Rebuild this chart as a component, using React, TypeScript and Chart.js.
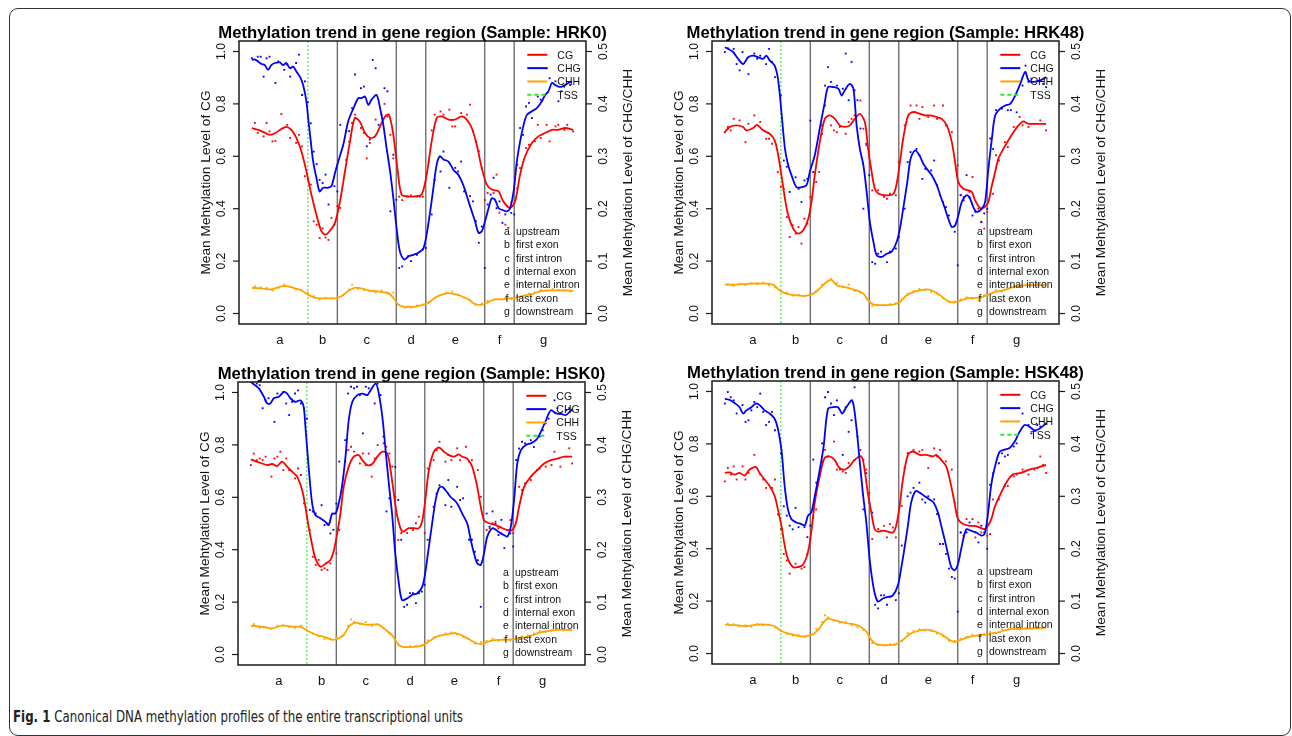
import React, { useEffect, useLayoutEffect, useRef } from "react";
import { Chart, registerables } from "chart.js";

Chart.register(...registerables);

type Pt = [number, number];

// ---------------- labels / categories ----------------
const SAMPLES = ["HRK0", "HRK48", "HSK0", "HSK48"];
const SERIES = ["CG", "CHG", "CHH"];
const SERIES_COLORS = ["#ff0000", "#0000ff", "#ffa500"];
const TSS_LABEL = "TSS";
const TSS_COLOR = "#2fe82f";
const REGION_LETTERS = ["a", "b", "c", "d", "e", "f", "g"];
const REGION_NAMES = ["upstream", "first exon", "first intron", "internal exon", "internal intron", "last exon", "downstream"];
const REGION_CENTERS = [9.5, 24, 39, 54, 69, 84, 99];
const REGION_BOUNDARIES = [29, 49, 59, 79, 89];
const TSS_POS = 19;
const X_START = 0;
const X_END = 109;
const CG_TICKS = [0, 0.2, 0.4, 0.6, 0.8, 1.0];
const CH_TICKS = [0, 0.1, 0.2, 0.3, 0.4, 0.5];
const TITLE_PREFIX = "Methylation trend in gene region (Sample: ";
const LEFT_AXIS_TITLE = "Mean Mehtylation Level of CG";
const RIGHT_AXIS_TITLE = "Mean Mehtylation Level of CHG/CHH";
const CAPTION_BOLD = "Fig. 1";
const CAPTION_TEXT = " Canonical DNA methylation profiles of the entire transcriptional units";

// ---------------- HRK0 ----------------
const HRK0_CG_LINE: Pt[] = [[0,.708],[2.1,.701],[4,.692],[6.1,.682],[8,.689],[10,.704],[11.7,.712],[13.4,.701],[15.1,.670],[16.8,.619],[18.5,.543],[20.2,.454],[21.9,.377],[23.6,.314],[25,.301],[26.5,.316],[28.2,.346],[29.9,.428],[31.6,.543],[33.3,.657],[34.9,.746],[36.6,.733],[38.4,.689],[40.1,.670],[41.8,.676],[43.5,.714],[45.2,.752],[46.5,.759],[48,.682],[49.5,.543],[50.8,.454],[53.1,.447],[55.3,.447],[57.6,.454],[59.3,.530],[61,.657],[62.7,.746],[64.4,.752],[66.7,.740],[68.9,.740],[71.2,.752],[72.9,.740],[74.6,.708],[76.3,.644],[78,.555],[79.7,.492],[81.4,.473],[83.7,.466],[85.3,.428],[87.6,.403],[89.3,.428],[91,.530],[92.7,.600],[95,.651],[97.2,.676],[99.5,.689],[101.8,.701],[104,.701],[106.3,.708],[109,.701]];
const HRK0_CG_DOTS: Pt[] = [[1,.727],[2,.689],[4,.676],[5,.727],[6,.695],[7,.657],[8,.659],[10,.761],[12,.720],[13,.670],[15,.651],[16,.682],[17,.638],[18,.524],[19,.511],[20,.492],[21,.352],[22,.339],[23,.288],[24,.325],[25,.290],[26,.281],[27,.365],[28,.339],[29,.410],[30,.403],[32,.586],[33,.656],[34,.727],[35,.759],[37,.708],[38,.689],[39,.592],[40,.651],[42,.740],[44,.759],[45,.800],[46,.752],[47,.682],[48,.592],[50,.446],[51,.433],[53,.446],[54,.451],[56,.446],[57,.446],[58,.446],[60,.580],[61,.699],[62,.759],[64,.771],[65,.759],[67,.778],[68,.714],[69,.714],[71,.765],[73,.759],[74,.797],[75,.695],[76,.657],[77,.619],[78,.555],[79,.433],[80,.460],[82,.460],[83,.530],[84,.385],[86,.339],[87,.327],[88,.423],[90,.478],[91,.555],[93,.632],[94,.644],[96,.657],[97,.720],[98,.670],[100,.720],[101,.657],[103,.714],[104,.720],[106,.701],[107,.720],[109,.695]];
const HRK0_CHG_LINE: Pt[] = [[0,.484],[1,.485],[2.1,.481],[3.3,.476],[4.4,.474],[5.5,.465],[6.6,.474],[7.8,.478],[9.5,.479],[10.6,.474],[11.7,.478],[12.9,.468],[14,.471],[15.1,.462],[16.3,.452],[17.4,.436],[18.5,.405],[19.1,.373],[20,.328],[20.8,.290],[21.9,.259],[23,.233],[24.2,.240],[25.9,.240],[27,.243],[28.2,.268],[29.3,.290],[31,.322],[32.7,.367],[34.5,.392],[36.1,.411],[37.2,.411],[38.4,.414],[39.5,.398],[40.6,.408],[42.3,.417],[43.5,.392],[44.6,.360],[45.7,.316],[46.9,.271],[48,.220],[49.1,.163],[50.2,.119],[51.7,.103],[53.1,.109],[54.8,.112],[56.5,.116],[58.2,.125],[59.3,.151],[60.5,.195],[61.6,.240],[62.7,.284],[63.8,.300],[65,.294],[66.7,.290],[68.4,.274],[70,.265],[71.2,.252],[72.3,.236],[73.5,.214],[74.6,.195],[75.7,.176],[76.9,.154],[78,.157],[79.1,.176],[80.3,.201],[81.4,.220],[82.5,.217],[83.7,.201],[84.8,.198],[86.5,.195],[87.6,.201],[88.8,.233],[89.9,.290],[91,.328],[92.2,.360],[93.3,.379],[95,.386],[96.7,.392],[98.4,.405],[99.5,.417],[100.6,.424],[101.8,.440],[102.9,.436],[104,.433],[105.2,.433],[106.3,.436],[107.4,.440],[108.6,.443]];
const HRK0_CHG_DOTS: Pt[] = [[0,.487],[2,.490],[3,.490],[4,.452],[5,.487],[6,.490],[8,.440],[9,.481],[11,.465],[12,.475],[13,.452],[15,.478],[16,.494],[17,.417],[18,.443],[19,.403],[20,.363],[21,.309],[22,.285],[23,.255],[24,.249],[25,.265],[26,.208],[28,.243],[29,.233],[30,.360],[32,.348],[33,.348],[34,.392],[35,.456],[37,.430],[38,.433],[39,.319],[40,.332],[41,.484],[42,.468],[43,.360],[45,.430],[46,.424],[47,.195],[48,.303],[49,.217],[50,.087],[51,.090],[53,.109],[54,.100],[56,.112],[58,.122],[59,.125],[61,.189],[62,.255],[64,.271],[65,.309],[67,.240],[69,.278],[70,.271],[71,.290],[72,.233],[74,.224],[75,.214],[76,.176],[77,.135],[78,.166],[79,.087],[80,.208],[81,.227],[82,.259],[83,.201],[84,.214],[85,.173],[86,.189],[88,.192],[89,.189],[90,.284],[91,.354],[92,.341],[93,.395],[94,.402],[95,.373],[97,.414],[98,.408],[100,.468],[101,.449],[103,.443],[104,.405],[105,.424],[106,.433],[108,.436]];
const HRK0_CHH_LINE: Pt[] = [[0,.049],[3.3,.048],[6.6,.046],[10,.052],[12.3,.052],[14.6,.048],[16.8,.044],[19.1,.036],[21.4,.030],[23.6,.029],[25.9,.029],[28.2,.029],[30.4,.033],[32.7,.043],[34.9,.049],[37.2,.048],[39.5,.044],[41.8,.043],[44,.041],[46.3,.039],[48,.030],[49.7,.017],[51.4,.013],[53.1,.013],[55.3,.013],[57.6,.016],[59.9,.020],[62.1,.030],[64.4,.036],[66.7,.039],[68.9,.037],[71.2,.033],[73.5,.027],[75.7,.018],[78,.017],[80.3,.022],[82.5,.027],[84.8,.027],[87,.029],[89.3,.030],[91.6,.033],[93.8,.036],[96.1,.039],[98.4,.043],[100.6,.044],[102.9,.044],[105.2,.044],[107.4,.044],[109,.043]];
const HRK0_CHH_DOTS: Pt[] = [[1,.052],[3,.050],[5,.049],[7,.044],[9,.049],[11,.055],[13,.051],[15,.046],[17,.044],[19,.040],[21,.033],[23,.027],[25,.030],[27,.029],[29,.030],[31,.035],[33,.046],[34,.055],[36,.047],[38,.045],[40,.043],[42,.040],[44,.044],[46,.038],[48,.040],[50,.016],[52,.011],[54,.012],[56,.015],[58,.017],[60,.022],[62,.030],[64,.035],[66,.040],[68,.042],[70,.036],[72,.030],[74,.025],[76,.017],[78,.019],[80,.024],[82,.026],[84,.027],[86,.030],[88,.028],[90,.033],[92,.031],[94,.038],[96,.040],[98,.045],[100,.043],[102,.047],[104,.045],[106,.044],[108,.042]];

// ---------------- HRK48 ----------------
const HRK48_CG_LINE: Pt[] = [[0,.692],[1.7,.712],[3.9,.718],[6.2,.712],[7.3,.699],[9.6,.708],[10.9,.720],[13,.699],[15.2,.686],[16.9,.661],[18.1,.604],[19.2,.527],[20.4,.438],[21.5,.375],[23.2,.324],[24.9,.305],[26.6,.318],[28.3,.362],[29.4,.426],[30.5,.527],[32.2,.654],[33.9,.743],[35.6,.756],[37.3,.743],[39,.718],[40.7,.712],[42.4,.718],[44.1,.743],[45.8,.762],[47.5,.731],[48.6,.629],[49.8,.540],[50.9,.476],[52.1,.457],[54.9,.451],[57.2,.457],[58.3,.496],[59.4,.578],[60.5,.667],[62.2,.756],[63.9,.769],[66.2,.762],[67.9,.756],[69.6,.756],[71.9,.750],[73.6,.743],[75.3,.718],[77,.654],[78.1,.578],[79.2,.502],[80.9,.476],[82.6,.470],[83.8,.464],[84.9,.432],[86.6,.403],[88.3,.407],[89.4,.426],[90.6,.489],[91.7,.540],[92.8,.591],[94.5,.629],[96.2,.661],[97.9,.692],[99.6,.718],[101.3,.733],[103,.724],[104.7,.724],[107,.724],[109,.724]];
const HRK48_CG_DOTS: Pt[] = [[0,.692],[1,.712],[2,.699],[3,.743],[5,.737],[7,.654],[8,.724],[10,.756],[12,.731],[14,.667],[15,.667],[16,.648],[18,.540],[19,.483],[20,.476],[21,.368],[22,.292],[23,.337],[24,.305],[25,.330],[26,.267],[27,.362],[28,.343],[29,.445],[31,.502],[32,.540],[33,.686],[34,.794],[36,.718],[37,.699],[38,.692],[39,.712],[41,.686],[42,.731],[43,.743],[44,.756],[46,.813],[47,.705],[48,.642],[49,.604],[50,.470],[52,.470],[54,.445],[55,.438],[56,.457],[58,.451],[59,.578],[61,.718],[63,.794],[65,.794],[66,.743],[67,.788],[69,.750],[71,.794],[72,.743],[74,.794],[75,.718],[77,.692],[79,.565],[80,.451],[81,.445],[83,.464],[84,.521],[86,.400],[87,.349],[88,.324],[89,.388],[91,.457],[92,.604],[93,.584],[95,.654],[96,.635],[98,.712],[100,.750],[101,.718],[103,.712],[105,.724],[107,.737],[109,.699]];
const HRK48_CHG_LINE: Pt[] = [[0,.508],[1.1,.505],[2.8,.499],[4.5,.486],[6.2,.476],[7.9,.489],[9.6,.492],[11.3,.489],[13,.486],[14.1,.492],[15.2,.483],[16.9,.473],[18.1,.445],[19.2,.384],[20.4,.314],[21.5,.283],[22.6,.264],[24.3,.241],[26,.241],[27.7,.245],[28.8,.270],[30.5,.302],[32.2,.353],[33.9,.403],[35,.432],[36.7,.432],[38.5,.429],[39.6,.416],[40.7,.426],[42.4,.438],[43.6,.429],[44.7,.359],[45.8,.314],[47,.283],[48.1,.232],[49.2,.175],[50.4,.137],[51.5,.111],[53.2,.108],[54.9,.114],[56.6,.118],[58.3,.137],[59.4,.162],[60.5,.200],[61.9,.251],[63,.295],[64.5,.311],[66,.302],[67.3,.286],[68.5,.276],[70.2,.264],[71.9,.245],[73.3,.222],[74.7,.200],[75.8,.181],[77,.165],[78.1,.168],[79.2,.187],[80.4,.213],[82.1,.226],[83.2,.219],[84.3,.203],[85.4,.194],[87.2,.200],[88.3,.213],[89.4,.276],[90.6,.334],[91.7,.378],[93.4,.391],[95.1,.397],[96.8,.400],[98.5,.416],[100.2,.438],[101.9,.461],[103,.445],[104.7,.442],[107,.445],[109,.451]];
const HRK48_CHG_DOTS: Pt[] = [[0,.499],[1,.506],[3,.505],[4,.476],[5,.464],[6,.499],[8,.457],[10,.496],[11,.486],[12,.492],[14,.476],[15,.505],[16,.480],[17,.451],[19,.416],[20,.292],[21,.280],[22,.232],[24,.260],[25,.238],[26,.213],[27,.254],[28,.257],[29,.368],[30,.270],[33,.359],[34,.435],[35,.470],[36,.442],[37,.432],[38,.435],[40,.429],[41,.496],[42,.407],[43,.480],[44,.426],[45,.407],[46,.353],[47,.200],[48,.324],[49,.264],[50,.098],[51,.095],[52,.114],[53,.118],[55,.098],[56,.118],[58,.124],[59,.146],[61,.200],[62,.289],[63,.308],[65,.314],[66,.302],[67,.257],[68,.276],[70,.273],[71,.292],[72,.245],[73,.226],[74,.213],[75,.203],[76,.187],[78,.156],[79,.092],[80,.226],[81,.216],[82,.264],[83,.222],[84,.187],[85,.194],[87,.175],[88,.191],[89,.200],[90,.334],[91,.314],[92,.388],[94,.391],[96,.388],[97,.388],[99,.384],[101,.435],[102,.473],[103,.442],[104,.448],[106,.445],[108,.438],[109,.432]];
const HRK48_CHH_LINE: Pt[] = [[0,.055],[3.9,.055],[8.5,.057],[13,.057],[16.4,.055],[18.6,.044],[20.9,.038],[23.2,.035],[25.4,.034],[27.7,.034],[30,.038],[32.2,.048],[34.5,.060],[36.2,.064],[37.9,.054],[40.2,.051],[42.4,.048],[44.7,.044],[47,.038],[48.6,.025],[50.4,.017],[52.6,.016],[54.9,.016],[57.1,.017],[59.4,.022],[61.7,.035],[64,.041],[66.2,.044],[68.5,.046],[70.7,.043],[73,.035],[75.3,.025],[77.5,.021],[79.8,.024],[82.1,.029],[84.3,.030],[86.6,.030],[88.9,.035],[91.1,.040],[93.4,.043],[95.6,.046],[97.9,.051],[100.2,.053],[102.4,.054],[104.7,.054],[107,.054],[109,.055]];
const HRK48_CHH_DOTS: Pt[] = [[1,.056],[3,.053],[5,.057],[7,.054],[9,.058],[11,.056],[13,.059],[15,.054],[17,.050],[19,.044],[21,.040],[23,.034],[25,.036],[27,.033],[29,.036],[31,.042],[33,.055],[35,.063],[36,.066],[38,.058],[40,.050],[42,.055],[44,.043],[46,.040],[48,.030],[50,.014],[52,.017],[54,.016],[56,.018],[58,.019],[60,.028],[62,.038],[64,.043],[66,.047],[68,.045],[70,.041],[72,.038],[74,.030],[76,.022],[78,.023],[80,.027],[82,.031],[84,.028],[86,.025],[88,.035],[90,.038],[92,.045],[94,.042],[96,.047],[98,.050],[100,.052],[102,.055],[104,.053],[106,.056],[108,.052]];

// ---------------- HSK0 ----------------
const HSK0_CG_LINE: Pt[] = [[0,.745],[1.5,.738],[3.8,.729],[5.5,.723],[7.2,.727],[8.9,.719],[10.6,.736],[12.3,.717],[14,.698],[15.7,.679],[17.4,.628],[18.5,.564],[19.6,.488],[20.8,.418],[21.9,.367],[23.6,.335],[25.3,.346],[27,.361],[28.2,.399],[29.3,.463],[30.4,.539],[31.5,.640],[33.2,.717],[34.9,.755],[36.6,.761],[37.8,.742],[39.5,.723],[41.2,.727],[42.9,.755],[44.6,.774],[46.3,.767],[47.4,.704],[48.5,.615],[49.7,.526],[51.4,.469],[53.6,.482],[55.3,.482],[57,.482],[58.2,.513],[59.3,.602],[60.4,.704],[62.1,.774],[63.8,.790],[65.5,.774],[67.2,.761],[68.9,.755],[70.6,.764],[71.7,.755],[73.4,.748],[75.1,.717],[76.8,.640],[78,.564],[79.1,.513],[80.8,.501],[83.1,.494],[85.4,.482],[87.1,.475],[88.7,.475],[89.9,.501],[91,.564],[92.7,.640],[95,.679],[97.2,.704],[99.5,.729],[101.8,.742],[104,.748],[106.3,.755],[109,.755]];
const HSK0_CG_DOTS: Pt[] = [[0,.723],[1,.767],[2,.742],[3,.748],[4,.742],[5,.755],[7,.679],[8,.748],[9,.755],[10,.774],[11,.704],[12,.748],[13,.704],[15,.672],[16,.710],[17,.685],[18,.577],[19,.526],[20,.475],[21,.373],[22,.342],[23,.361],[24,.323],[25,.329],[26,.323],[27,.348],[29,.386],[30,.475],[31,.640],[32,.736],[33,.780],[34,.793],[35,.774],[37,.729],[38,.767],[39,.723],[40,.767],[41,.679],[42,.748],[43,.799],[45,.806],[46,.793],[47,.767],[48,.717],[49,.602],[50,.437],[51,.463],[53,.463],[55,.475],[56,.501],[57,.526],[59,.463],[60,.710],[62,.742],[63,.780],[64,.812],[66,.736],[67,.761],[68,.742],[70,.787],[71,.742],[73,.793],[74,.736],[75,.742],[77,.704],[78,.602],[80,.475],[81,.482],[82,.501],[83,.507],[84,.482],[85,.463],[87,.475],[88,.513],[89,.463],[91,.640],[92,.628],[93,.653],[95,.666],[97,.704],[98,.710],[100,.717],[102,.723],[103,.774],[105,.717],[107,.755],[108,.787],[109,.729]];
const HSK0_CHG_LINE: Pt[] = [[0,.520],[2.7,.508],[4.4,.492],[5.5,.479],[6.6,.479],[7.8,.489],[9.5,.492],[11.2,.501],[12.3,.498],[13.4,.489],[15.1,.482],[16.8,.485],[17.9,.473],[18.5,.435],[19.6,.358],[20.8,.288],[21.9,.266],[23.6,.260],[25.3,.253],[26.4,.247],[27.6,.269],[28.7,.269],[29.8,.288],[30.9,.320],[32.1,.377],[33.2,.447],[34.4,.482],[36.1,.495],[37.8,.498],[39.5,.495],[40.6,.504],[42.3,.517],[43.2,.504],[44.6,.454],[45.7,.390],[46.8,.327],[47.9,.269],[49,.193],[50.2,.136],[51.3,.104],[53,.107],[54.8,.114],[56.5,.117],[58.2,.130],[59.3,.161],[60.4,.206],[61.5,.250],[62.7,.295],[63.8,.317],[64.9,.320],[66,.314],[67.7,.301],[69.5,.292],[70.6,.282],[71.7,.269],[73.4,.250],[74.6,.219],[75.7,.193],[76.8,.174],[78,.171],[79.1,.193],[80.2,.225],[81.9,.241],[83.1,.238],[84.8,.231],[85.9,.228],[87,.225],[88.2,.244],[89.3,.295],[90.4,.365],[91.6,.390],[93.3,.400],[95,.403],[96.7,.409],[98.4,.425],[100.1,.447],[101.8,.466],[103.5,.460],[105.2,.459],[106.9,.457],[108.6,.466],[109,.468]];
const HSK0_CHG_DOTS: Pt[] = [[0,.520],[2,.517],[3,.514],[4,.470],[5,.485],[6,.489],[8,.444],[9,.498],[11,.501],[12,.479],[13,.457],[14,.482],[15,.498],[16,.504],[17,.479],[18,.470],[19,.450],[20,.276],[21,.273],[22,.269],[24,.285],[25,.247],[26,.250],[27,.231],[28,.238],[29,.288],[30,.368],[32,.409],[33,.498],[34,.511],[35,.508],[36,.511],[37,.495],[38,.422],[39,.511],[40,.508],[42,.479],[43,.517],[44,.495],[45,.416],[46,.273],[47,.298],[49,.358],[50,.295],[51,.219],[52,.091],[53,.095],[54,.117],[55,.117],[56,.098],[57,.117],[58,.120],[59,.133],[60,.219],[62,.282],[63,.307],[64,.323],[66,.285],[67,.333],[68,.282],[70,.320],[71,.295],[72,.298],[74,.219],[75,.219],[76,.196],[77,.180],[78,.091],[80,.269],[81,.244],[82,.273],[83,.250],[84,.228],[85,.257],[86,.203],[88,.231],[89,.206],[90,.371],[91,.393],[92,.406],[93,.403],[95,.409],[96,.396],[98,.416],[99,.428],[100,.441],[101,.450],[103,.485],[104,.470],[105,.460],[107,.466],[108,.470],[109,.466]];
const HSK0_CHH_LINE: Pt[] = [[0,.055],[3.8,.053],[7.2,.050],[10.6,.055],[14,.053],[16.8,.053],[18.5,.048],[20.8,.041],[23,.036],[25.3,.033],[27.6,.028],[29.8,.031],[31.5,.037],[33.2,.053],[34.9,.060],[36.6,.060],[38.9,.057],[41.2,.057],[43.4,.057],[45.7,.047],[47.9,.037],[49.7,.022],[51.3,.015],[53.6,.014],[55.9,.015],[58.2,.017],[60.4,.025],[62.7,.033],[64.9,.037],[67.2,.039],[69.5,.041],[71.7,.036],[74,.029],[76.3,.022],[78,.020],[79.7,.023],[81.9,.027],[84.2,.028],[86.5,.028],[88.7,.029],[91,.031],[93.3,.033],[95.5,.037],[97.8,.042],[100.1,.044],[102.3,.046],[104.6,.047],[106.9,.047],[109,.046]];
const HSK0_CHH_DOTS: Pt[] = [[1,.058],[3,.051],[5,.052],[7,.049],[9,.055],[11,.056],[13,.053],[15,.051],[17,.055],[19,.046],[21,.040],[23,.035],[25,.030],[27,.030],[29,.033],[31,.036],[33,.055],[34,.067],[35,.062],[37,.058],[39,.062],[41,.055],[43,.058],[45,.050],[47,.040],[49,.025],[50,.017],[52,.014],[54,.016],[56,.016],[58,.018],[60,.027],[62,.033],[64,.036],[66,.040],[68,.042],[70,.038],[72,.034],[74,.030],[76,.021],[78,.024],[80,.026],[82,.030],[84,.026],[86,.031],[88,.027],[90,.033],[92,.035],[94,.036],[96,.040],[98,.045],[100,.043],[102,.046],[104,.049],[106,.046],[108,.047]];

// ---------------- HSK48 ----------------
const HSK48_CG_LINE: Pt[] = [[0,.689],[1.6,.691],[3.3,.683],[5,.689],[6.7,.679],[8.4,.702],[10.5,.712],[11.8,.689],[13.5,.664],[15.2,.639],[16.9,.601],[18,.550],[19.2,.487],[20.3,.412],[21.4,.361],[23.1,.330],[24.8,.330],[26.5,.339],[28.2,.387],[29.3,.462],[30.5,.576],[32.2,.676],[33.8,.746],[35.5,.752],[37.2,.739],[38.9,.708],[40.6,.702],[42.3,.714],[44,.739],[46.3,.752],[47.4,.702],[48.5,.613],[49.7,.538],[50.8,.475],[51.9,.465],[53.6,.469],[55.3,.465],[57,.462],[58.1,.487],[59.3,.563],[60.4,.664],[62.1,.758],[63.8,.771],[66.1,.758],[68.3,.758],[70.6,.752],[71.7,.758],[73.4,.739],[75.1,.714],[76.8,.639],[77.9,.576],[79.1,.513],[80.8,.494],[83,.487],[84.7,.487],[86.4,.481],[88.1,.475],[89.2,.487],[90.4,.513],[91.5,.557],[93.2,.601],[95.4,.651],[97.7,.683],[100.5,.689],[103.3,.702],[105.6,.708],[109,.720]];
const HSK48_CG_DOTS: Pt[] = [[0,.657],[1,.708],[2,.683],[3,.714],[4,.664],[6,.714],[7,.664],[8,.689],[10,.758],[12,.683],[13,.664],[14,.632],[16,.632],[17,.664],[18,.531],[19,.475],[20,.380],[21,.355],[22,.305],[24,.343],[25,.330],[26,.324],[27,.330],[28,.380],[29,.437],[30,.519],[31,.550],[33,.733],[34,.777],[35,.752],[37,.809],[38,.702],[39,.702],[40,.695],[41,.689],[42,.727],[44,.739],[46,.777],[47,.739],[48,.702],[49,.613],[50,.437],[52,.475],[54,.487],[55,.443],[56,.494],[57,.481],[58,.443],[60,.563],[61,.708],[62,.765],[64,.777],[66,.771],[67,.777],[69,.708],[71,.783],[72,.752],[73,.777],[75,.733],[77,.702],[78,.576],[80,.462],[81,.450],[82,.513],[84,.513],[85,.443],[86,.500],[87,.462],[89,.450],[90,.456],[91,.588],[93,.588],[95,.639],[96,.639],[98,.676],[99,.683],[101,.702],[103,.683],[105,.702],[106,.708],[107,.752],[108,.720],[109,.689]];
const HSK48_CHG_LINE: Pt[] = [[0,.486],[1.6,.484],[3.3,.478],[5,.470],[6.2,.458],[7.3,.464],[9,.470],[10.5,.477],[11.8,.474],[13.5,.464],[15.2,.458],[16.9,.448],[18,.429],[19.2,.389],[20.3,.319],[21.4,.275],[22.6,.256],[24.3,.250],[25.9,.247],[27.1,.244],[28.2,.263],[29.3,.269],[30.5,.300],[32.2,.351],[33.5,.395],[35,.467],[36.7,.470],[38.4,.470],[39.8,.458],[41.2,.470],[43.2,.483],[44.6,.433],[45.7,.370],[46.8,.307],[48,.250],[49.1,.181],[50.5,.124],[51.9,.099],[53.6,.105],[55.3,.108],[57,.111],[58.7,.130],[59.8,.162],[61,.203],[62.1,.244],[63.2,.288],[64.7,.310],[66.1,.307],[67.8,.300],[69.4,.294],[70.8,.288],[72.3,.269],[73.4,.244],[74.5,.219],[75.7,.190],[76.8,.165],[77.9,.159],[79.1,.171],[80.2,.200],[81.9,.237],[83.6,.234],[85.3,.231],[87,.225],[88.1,.228],[89.2,.263],[90.3,.319],[91.4,.351],[93.2,.385],[94.9,.389],[96.6,.392],[98.3,.404],[100,.423],[101.7,.436],[103.3,.433],[105,.426],[106.7,.429],[109,.439]];
const HSK48_CHG_DOTS: Pt[] = [[0,.477],[1,.499],[2,.489],[3,.483],[4,.458],[6,.474],[7,.442],[8,.445],[9,.464],[10,.480],[11,.470],[12,.496],[13,.461],[14,.436],[15,.442],[16,.461],[17,.426],[19,.382],[20,.281],[21,.263],[22,.244],[23,.237],[24,.278],[25,.241],[27,.241],[28,.222],[29,.244],[30,.370],[31,.326],[33,.401],[34,.489],[35,.499],[36,.477],[37,.455],[38,.483],[40,.379],[41,.470],[42,.423],[43,.445],[44,.508],[45,.414],[47,.275],[48,.344],[49,.288],[50,.269],[51,.093],[52,.086],[53,.111],[54,.111],[55,.093],[56,.108],[58,.102],[59,.115],[60,.206],[62,.300],[63,.307],[64,.316],[66,.326],[67,.294],[68,.288],[69,.300],[71,.294],[72,.266],[73,.209],[74,.209],[75,.190],[76,.162],[77,.146],[78,.143],[79,.080],[80,.231],[82,.231],[83,.250],[85,.231],[86,.212],[87,.244],[88,.231],[89,.200],[90,.322],[91,.344],[93,.363],[94,.382],[95,.376],[96,.379],[98,.395],[99,.401],[101,.458],[103,.436],[104,.420],[106,.436],[107,.433],[109,.439]];
const HSK48_CHH_LINE: Pt[] = [[0,.055],[3.9,.054],[7.3,.052],[10.7,.055],[14.1,.055],[16.9,.052],[18.6,.045],[20.9,.039],[23.1,.036],[25.4,.033],[27.6,.033],[29.9,.037],[31.6,.045],[33.3,.058],[35,.067],[36.7,.064],[38.9,.061],[41.2,.058],[43.5,.056],[45.7,.052],[48,.042],[49.7,.026],[51.4,.018],[53.6,.016],[55.9,.016],[58.1,.018],[60.4,.026],[62.7,.037],[64.9,.042],[67.2,.045],[69.4,.045],[71.7,.041],[74,.035],[76.2,.026],[77.9,.022],[79.6,.025],[81.9,.030],[84.1,.033],[86.4,.035],[88.7,.036],[90.9,.039],[93.2,.041],[95.4,.045],[97.7,.047],[100,.047],[102.2,.047],[104.5,.048],[106.7,.048],[109,.050]];
const HSK48_CHH_DOTS: Pt[] = [[1,.057],[3,.056],[5,.052],[7,.054],[9,.051],[11,.056],[13,.054],[15,.055],[17,.050],[19,.043],[21,.038],[23,.034],[25,.035],[27,.031],[29,.036],[31,.047],[33,.060],[34,.073],[35,.069],[37,.063],[39,.059],[41,.060],[43,.054],[45,.050],[47,.045],[49,.030],[50,.020],[52,.016],[54,.015],[56,.018],[58,.017],[60,.024],[62,.039],[64,.043],[66,.046],[68,.044],[70,.043],[72,.038],[74,.033],[76,.024],[78,.024],[80,.028],[82,.032],[84,.036],[86,.034],[88,.037],[90,.041],[92,.039],[94,.046],[96,.045],[98,.049],[100,.046],[102,.049],[104,.047],[106,.050],[108,.049]];

type PanelData = { sample: string; lines: Pt[][]; dots: Pt[][] };
const PANELS: PanelData[] = [
  { sample: SAMPLES[0], lines: [HRK0_CG_LINE, HRK0_CHG_LINE, HRK0_CHH_LINE], dots: [HRK0_CG_DOTS, HRK0_CHG_DOTS, HRK0_CHH_DOTS] },
  { sample: SAMPLES[1], lines: [HRK48_CG_LINE, HRK48_CHG_LINE, HRK48_CHH_LINE], dots: [HRK48_CG_DOTS, HRK48_CHG_DOTS, HRK48_CHH_DOTS] },
  { sample: SAMPLES[2], lines: [HSK0_CG_LINE, HSK0_CHG_LINE, HSK0_CHH_LINE], dots: [HSK0_CG_DOTS, HSK0_CHG_DOTS, HSK0_CHH_DOTS] },
  { sample: SAMPLES[3], lines: [HSK48_CG_LINE, HSK48_CHG_LINE, HSK48_CHH_LINE], dots: [HSK48_CG_DOTS, HSK48_CHG_DOTS, HSK48_CHH_DOTS] },
];

// ---------------- layout (not data) ----------------
const BOX_POS = [[239, 41], [712, 41], [238, 382], [712, 381]];
const BOX_W = 347;
const BOX_H = 283;
const PAD = { left: 60, top: 32, right: 60, bottom: 32 };
const CW = BOX_W + PAD.left + PAD.right;
const CH = BOX_H + PAD.top + PAD.bottom;
const FF = '"Liberation Sans", Arial, Helvetica, sans-serif';

function rtext(ctx: CanvasRenderingContext2D, s: string, cx: number, cy: number, size: number) {
  ctx.save();
  ctx.translate(cx, cy);
  ctx.rotate(-Math.PI / 2);
  ctx.font = `${size}px ${FF}`;
  ctx.textAlign = "center";
  ctx.textBaseline = "alphabetic";
  ctx.fillText(s, 0, size * 0.36);
  ctx.restore();
}

function seg(ctx: CanvasRenderingContext2D, x1: number, y1: number, x2: number, y2: number) {
  ctx.beginPath();
  ctx.moveTo(x1, y1);
  ctx.lineTo(x2, y2);
  ctx.stroke();
}

const decor = {
  id: "rdecor",
  beforeDatasetsDraw(chart: any) {
    const { ctx, chartArea: a, scales } = chart;
    const x = scales.x;
    ctx.save();
    ctx.strokeStyle = "#707070";
    ctx.lineWidth = 1.4;
    for (const b of REGION_BOUNDARIES) {
      const px = x.getPixelForValue(b);
      seg(ctx, px, a.top, px, a.bottom);
    }
    ctx.strokeStyle = TSS_COLOR;
    ctx.lineWidth = 1.1;
    ctx.setLineDash([2, 2]);
    const tp = x.getPixelForValue(TSS_POS);
    seg(ctx, tp, a.top, tp, a.bottom);
    ctx.restore();
  },
  afterDatasetsDraw(chart: any, _args: any, opts: any) {
    const { ctx, chartArea: a, scales } = chart;
    const L = a.left, R = a.right, T = a.top, B = a.bottom;
    ctx.save();
    ctx.strokeStyle = "#1a1a1a";
    ctx.lineWidth = 1.5;
    ctx.strokeRect(L, T, R - L, B - T);
    ctx.fillStyle = "#111";
    ctx.lineWidth = 1.2;
    for (const v of CG_TICKS) {
      const py = scales.y.getPixelForValue(v);
      seg(ctx, L, py, L - 6, py);
      rtext(ctx, v.toFixed(1), L - 18, py, 12.2);
    }
    for (const v of CH_TICKS) {
      const py = scales.y2.getPixelForValue(v);
      seg(ctx, R, py, R + 6, py);
      rtext(ctx, v.toFixed(1), R + 17, py, 12.2);
    }
    rtext(ctx, LEFT_AXIS_TITLE, L - 34, (T + B) / 2, 13.7);
    rtext(ctx, RIGHT_AXIS_TITLE, R + 41, (T + B) / 2, 13.7);
    // x labels
    ctx.font = `13px ${FF}`;
    ctx.textAlign = "center";
    ctx.textBaseline = "alphabetic";
    REGION_LETTERS.forEach((l, i) => {
      ctx.fillText(l, scales.x.getPixelForValue(REGION_CENTERS[i]), B + 20);
    });
    // title
    ctx.font = `bold 16.7px ${FF}`;
    ctx.fillStyle = "#000";
    ctx.fillText(TITLE_PREFIX + opts.sample + ")", (L + R) / 2, T - 3);
    // series legend
    ctx.font = `10.5px ${FF}`;
    ctx.textAlign = "left";
    const names = [...SERIES, TSS_LABEL];
    const cols = [...SERIES_COLORS, TSS_COLOR];
    names.forEach((n, i) => {
      const ry = T + 13.8 + i * 13.33;
      ctx.strokeStyle = cols[i];
      ctx.lineWidth = 2;
      if (i === 3) ctx.setLineDash([4, 3]);
      seg(ctx, R - 58.7, ry, R - 38.7, ry);
      ctx.setLineDash([]);
      ctx.fillStyle = "#111";
      ctx.fillText(n, R - 28.7, ry + 3.8);
    });
    // region legend
    REGION_LETTERS.forEach((l, i) => {
      const ry = T + 190.5 + i * 13.33;
      ctx.textAlign = "center";
      ctx.fillText(l, R - 79, ry + 3.5);
      ctx.textAlign = "left";
      ctx.fillText(REGION_NAMES[i], R - 70, ry + 3.5);
    });
    ctx.restore();
  },
};

function Panel({ data, pos }: { data: PanelData; pos: number[] }) {
  const ref = useRef<HTMLCanvasElement>(null);
  useEffect(() => {
    const toXY = (arr: Pt[]) => arr.map(([x, y]) => ({ x, y }));
    const axisOf = (i: number) => (i === 0 ? "y" : "y2");
    const lineSets = [2, 1, 0].map((i) => ({
      type: "line" as const,
      label: SERIES[i],
      data: toXY(data.lines[i]),
      yAxisID: axisOf(i),
      borderColor: SERIES_COLORS[i],
      backgroundColor: SERIES_COLORS[i],
      borderWidth: 1.8,
      pointRadius: 0,
      showLine: true,
      tension: 0.3,
      fill: false,
    }));
    const dotSets = [2, 1, 0].map((i) => ({
      type: "scatter" as const,
      label: SERIES[i] + " bins",
      data: toXY(data.dots[i]),
      yAxisID: axisOf(i),
      backgroundColor: SERIES_COLORS[i],
      borderWidth: 0,
      pointStyle: "rect",
      pointRadius: 1.3,
      showLine: false,
    }));
    const xPad = (X_END - X_START) * 0.04;
    const chart = new Chart(ref.current!, {
      type: "scatter",
      data: { datasets: [...lineSets, ...dotSets] as any },
      options: {
        responsive: false,
        animation: false,
        devicePixelRatio: 1,
        events: [],
        layout: { padding: PAD },
        scales: {
          x: { type: "linear", min: X_START - xPad, max: X_END + xPad, display: false },
          y: { type: "linear", min: -0.04, max: 1.04, display: false },
          y2: { type: "linear", position: "right", min: -0.02, max: 0.52, display: false },
        },
        plugins: {
          legend: { display: false },
          tooltip: { enabled: false },
          title: { display: false },
          rdecor: { sample: data.sample },
        } as any,
      },
      plugins: [decor as any],
    });
    return () => chart.destroy();
  }, [data]);
  return (
    <canvas
      ref={ref}
      width={CW}
      height={CH}
      style={{ position: "absolute", left: pos[0] - PAD.left, top: pos[1] - PAD.top, width: CW, height: CH }}
    />
  );
}

export default function App() {
  const capRef = useRef<HTMLDivElement>(null);
  useLayoutEffect(() => {
    const el = capRef.current;
    if (!el) return;
    const w = el.getBoundingClientRect().width;
    if (w > 0) el.style.transform = `scaleX(${450 / w})`;
  }, []);
  return (
    <div style={{ position: "fixed", left: 0, top: 0, width: 1292, height: 736, background: "#fff", overflow: "hidden" }}>
      <div
        style={{
          position: "absolute",
          left: 9,
          top: 8,
          width: 1282,
          height: 728,
          boxSizing: "border-box",
          border: "1.5px solid #333",
          borderRadius: 9,
        }}
      />
      {PANELS.map((p, i) => (
        <Panel key={p.sample} data={p} pos={BOX_POS[i]} />
      ))}
      <div
        ref={capRef}
        style={{
          position: "absolute",
          left: 13,
          top: 710,
          whiteSpace: "nowrap",
          display: "inline-block",
          transformOrigin: "left top",
          fontFamily: '"Liberation Sans Narrow", "DejaVu Sans Condensed", "Liberation Sans", sans-serif',
          fontSize: 15,
          lineHeight: 1,
          color: "#222",
        }}
      >
        <b>{CAPTION_BOLD}</b>
        {CAPTION_TEXT}
      </div>
    </div>
  );
}
